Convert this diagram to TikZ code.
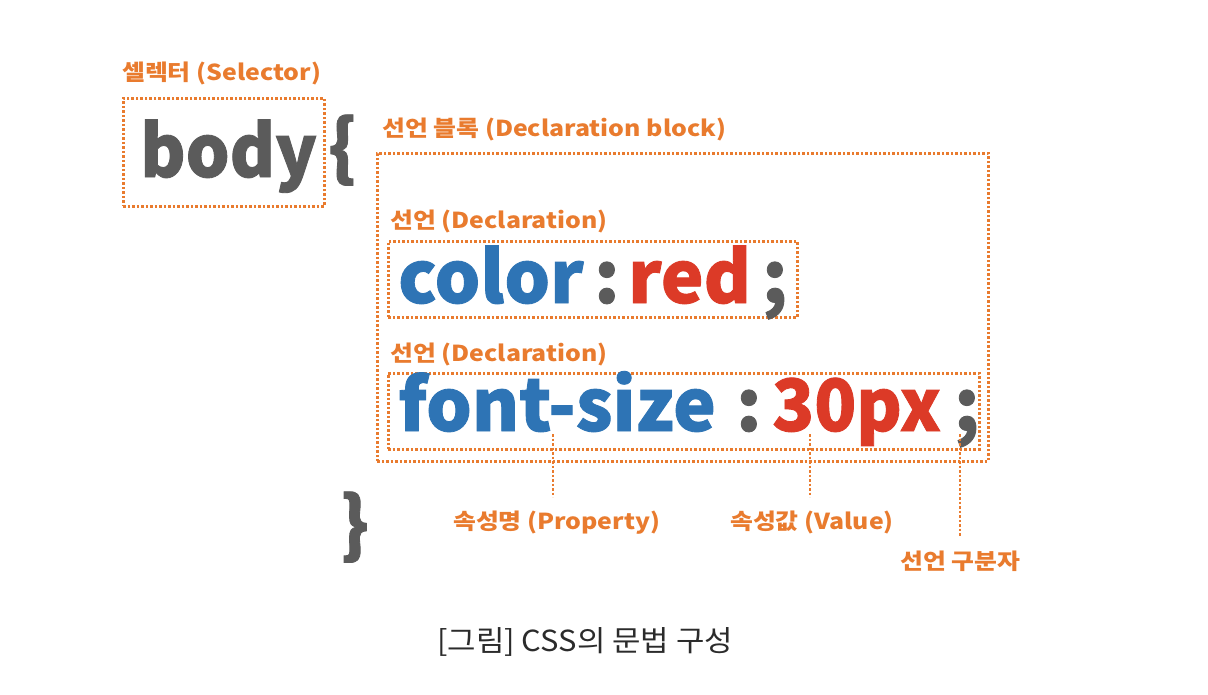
\documentclass[tikz,border=0pt]{standalone}
\usepackage{fontspec}
\setmainfont{Noto Sans CJK KR}
\newfontfamily\krfont{Noto Sans CJK KR}
\newfontfamily\codefont[FakeBold=1.2]{Noto Sans CJK KR}
\definecolor{orng}{HTML}{E97B2E}
\definecolor{codegray}{HTML}{5B5B5B}
\definecolor{codeblue}{HTML}{2E74B5}
\definecolor{codered}{HTML}{DC3A27}
\definecolor{capgray}{HTML}{2B2B2B}
\newcommand{\wide}[1]{\scalebox{1.13}[1]{#1}}
\begin{document}
\begin{tikzpicture}[x=1pt,y=-1pt,
  lbl/.style={text=orng, font=\krfont\bfseries\fontsize{22}{26}\selectfont, inner sep=0pt, anchor=base west},
  code/.style={font=\codefont\bfseries\fontsize{72}{80}\selectfont, inner sep=0pt, anchor=base west},
  dotbox/.style={draw=orng, line width=2.5pt, dash pattern=on 2.5pt off 2pt, inner sep=0pt, anchor=north west},
  dotline/.style={draw=orng, line width=2.5pt, dash pattern=on 2.5pt off 2pt}]
\useasboundingbox[fill=white] (0,0) rectangle (1208,694);

% boxes
\node[dotbox, minimum width=201pt, minimum height=108pt] (selbox) at (122,97) {};
\node[dotbox, minimum width=611pt, minimum height=308pt] (blockbox) at (376,152) {};
\node[dotbox, minimum width=409pt, minimum height=76pt] (dbox1) at (387,240) {};
\node[dotbox, minimum width=591pt, minimum height=76pt] (dbox2) at (387,372) {};

% labels
\node[lbl] (sellbl) at (122,80) {\wide{셀렉터 (Selector)}};
\node[lbl] (blocklbl) at (382,136) {\wide{선언 블록 (Declaration block)}};
\node[lbl] (dlbl1) at (390,228) {\wide{선언 (Declaration)}};
\node[lbl] (dlbl2) at (390,361) {\wide{선언 (Declaration)}};
\node[lbl] (proplbl) at (453,529) {\wide{속성명 (Property)}};
\node[lbl] (vallbl) at (730,529) {\wide{속성값 (Value)}};
\node[lbl] (seplbl) at (900,569) {\wide{선언 구분자}};

% code
\node[code, text=codegray] (body) at (140,177) {\scalebox{0.96}[1]{body}};
\node[code, text=codegray] (lbrace) at (328,173) {\{};
\node[code, text=codegray] (rbrace) at (340,550) {\}};
\node[code, text=codeblue] (color) at (398,303) {color};
\node[code, text=codegray] (colon1) at (594,303) {:};
\node[code, text=codered] (red) at (628,303) {red};
\node[code, text=codegray] (semi1) at (762,303) {;};
\node[code, text=codeblue] (fontsize) at (398,431) {font-size};
\node[code, text=codegray] (colon2) at (736,431) {:};
\node[code, text=codered] (px) at (772,431) {\scalebox{0.96}[1]{30px}};
\node[code, text=codegray] (semi2) at (954,431) {;};

% connectors
\coordinate (ps) at (553,434);
\coordinate (pe) at (553,497);
\coordinate (vs) at (810,434);
\coordinate (ve) at (810,497);
\coordinate (ss) at (960,434);
\coordinate (se) at (960,537);
\draw[dotline] (ps) -- (pe);
\draw[dotline] (vs) -- (ve);
\draw[dotline] (ss) -- (se);

% caption
\node[inner sep=0pt, anchor=base west, text=capgray, font=\krfont\fontsize{29}{33}\selectfont] (caption) at (437,651) {\scalebox{1.065}[1]{[그림] CSS의 문법 구성}};
\end{tikzpicture}
\end{document}
